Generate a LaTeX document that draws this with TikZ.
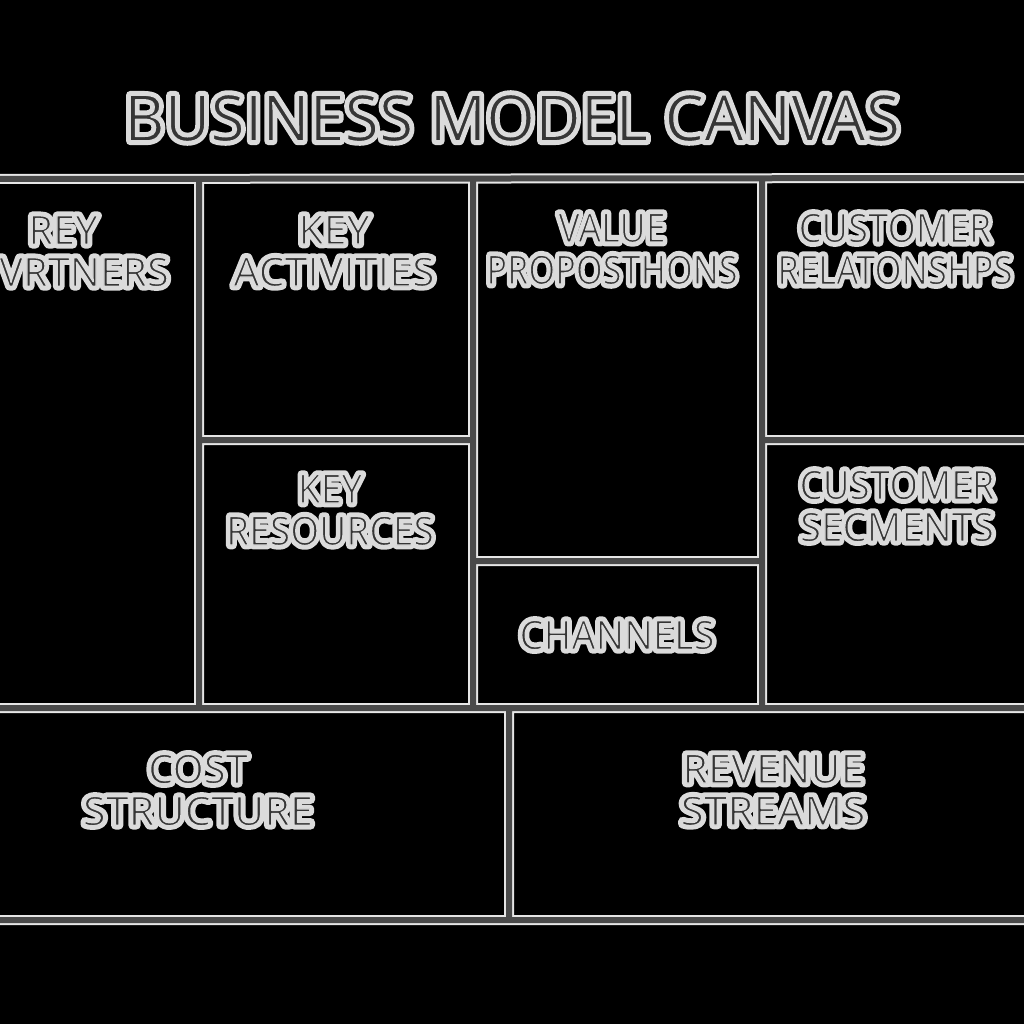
\documentclass[tikz,border=0pt]{standalone}
\usepackage{fontspec}
\setmainfont{Open Sans}
\usepackage{graphicx}
\definecolor{bandgray}{HTML}{4A4A4A}
\definecolor{edgewhite}{HTML}{E6E6E6}
\definecolor{ink}{HTML}{363636}
% halo: the text stroked wide in light grey, then filled (and thinly stroked) dark on top
\newcommand{\hl}[2][1]{\scalebox{#1}[1]{\leavevmode\rlap{\special{pdf:literal direct 1 Tr 8.5 w 1 j 0.86 G}#2\special{pdf:literal direct 0 Tr}}\special{pdf:literal direct 2 Tr 1.3 w 1 j}#2\special{pdf:literal direct 0 Tr}}}
\newcommand{\gridlines}[1]{%
  \draw[#1] (-10,179)--(1034,178) (-10,708)--(1034,708) (-10,920)--(1034,920)
    (199,179)--(199,708) (473,178)--(473,708) (762,178)--(762,708)
    (199,440)--(473,440) (473,561)--(762,561) (762,440)--(1034,440)
    (509,708)--(509,920);}
\begin{document}
\begin{tikzpicture}[x=1pt,y=-1pt,
  edgeline/.style={draw=edgewhite, line width=10pt},
  bandline/.style={draw=bandgray, line width=6pt},
  lbl/.style={text=ink, font=\fontsize{40}{42}\selectfont, align=center, inner sep=0pt},
  ttl/.style={text=ink, font=\fontsize{64}{68}\selectfont, inner sep=0pt}]
\useasboundingbox (0,0) rectangle (1024,1024);
\fill[black] (0,0) rectangle (1024,1024);
\begin{scope}
\clip (0,0) rectangle (1024,1024);
\gridlines{edgeline}
\gridlines{bandline}
\node[ttl] (title) at (512,118) {\hl[0.98]{BUSINESS MODEL CANVAS}};
\node[lbl] (kp1) at (63,230) {\hl{REY}};
\node[lbl,anchor=west] (kp2) at (-1,272) {\hl{VRTNERS}};
\node[lbl] (ka) at (334,251) {\hl[1.03]{KEY}\\\hl[1.03]{ACTIVITIES}};
\node[lbl] (vp) at (612,249) {\hl[0.9]{VALUE}\\\hl[0.86]{PROPOSTHONS}};
\node[lbl] (cr) at (895,249) {\hl[0.91]{CUSTOMER}\\\hl[0.87]{RELATONSHPS}};
\node[lbl] (kr) at (330,510) {\hl[0.93]{KEY}\\\hl[0.93]{RESOURCES}};
\node[lbl] (cs) at (897,506) {\hl[0.92]{CUSTOMER}\\\hl[0.96]{SECMENTS}};
\node[lbl] (ch) at (617,635) {\hl[0.95]{CHANNELS}};
\node[lbl] (cost) at (198,790) {\hl{COST}\\\hl[1.04]{STRUCTURE}};
\node[lbl] (rev) at (773,790) {\hl[1.04]{REVENUE}\\\hl[1.06]{STREAMS}};
\end{scope}
\end{tikzpicture}
\end{document}
